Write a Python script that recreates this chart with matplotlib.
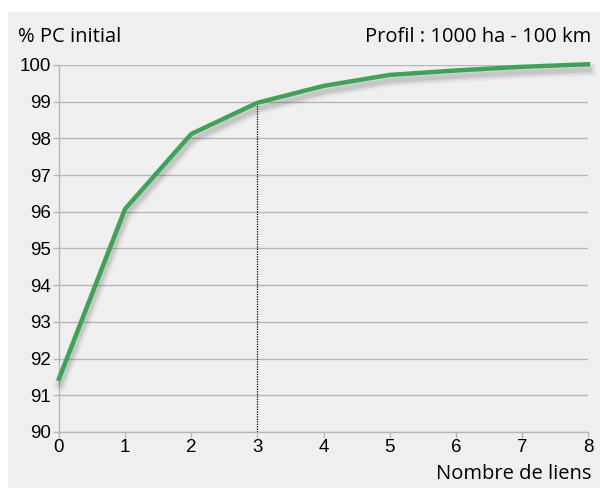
import numpy as np
import matplotlib.pyplot as plt
import matplotlib.patheffects as pe
from matplotlib.patches import Rectangle

liens = [0, 1, 2, 3, 4, 5, 6, 7, 8]
pc_initial = [91.45, 96.08, 98.12, 98.97, 99.43, 99.73, 99.85, 99.95, 100.02]
y_ticks = [90, 91, 92, 93, 94, 95, 96, 97, 98, 99, 100]
marked_links = 3

plt.rcParams["font.family"] = ["Liberation Sans", "DejaVu Sans"]

fig = plt.figure(figsize=(6, 4.88), dpi=100)
fig.patch.set_facecolor("white")
# grey panel behind everything
fig.patches.append(Rectangle((8 / 600, 0), 1, 1 - 12 / 488, transform=fig.transFigure,
                             facecolor="#efefef", edgecolor="none", zorder=-10))

ax = fig.add_axes([59 / 600, 1 - 432 / 488, 529 / 600, 367 / 488])
ax.set_facecolor("none")
ax.set_zorder(5)

# soft drop shadow under the curve
shadow = [pe.Stroke(linewidth=9, foreground="#000000", alpha=0.04, offset=(1, -4)),
          pe.Stroke(linewidth=6, foreground="#000000", alpha=0.06, offset=(1, -4)),
          pe.Stroke(linewidth=3.5, foreground="#000000", alpha=0.08, offset=(1, -4)),
          pe.Normal()]
ax.plot(liens, pc_initial, color="#3ba555", lw=3.2, solid_joinstyle="round",
        path_effects=shadow, zorder=4, clip_on=False)

idx = liens.index(marked_links)
ax.plot([marked_links, marked_links], [90, pc_initial[idx]], color="black",
        lw=0.9, linestyle=(0, (1, 1)), zorder=3)

ax.set_xlim(0, 8)
ax.set_ylim(90, 100)
ax.set_yticks(y_ticks)
ax.set_xticks(liens)
ax.grid(axis="y", color="#b7b7b7", lw=1)
ax.set_axisbelow(True)
for s in ["top", "right"]:
    ax.spines[s].set_visible(False)
for s in ["left", "bottom"]:
    ax.spines[s].set_color("#b7b7b7")
    ax.spines[s].set_linewidth(1)
ax.tick_params(axis="both", colors="#b7b7b7", labelcolor="black", length=4, width=1,
               labelsize=13.5)
ax.tick_params(axis="x", pad=1)
ax.tick_params(axis="y", pad=2)

fig.text(18 / 600, 1 - 37 / 488, "% PC initial", fontsize=14.5, family="Open Sans",
         va="center", ha="left")
fig.text(591 / 600, 1 - 37 / 488, "Profil : 1000 ha - 100 km", fontsize=14.5,
         family="Open Sans", va="center", ha="right")
fig.text(591 / 600, 1 - 474 / 488, "Nombre de liens", fontsize=14.5, family="Open Sans",
         va="center", ha="right")

fig.savefig("out.png", dpi=100)
